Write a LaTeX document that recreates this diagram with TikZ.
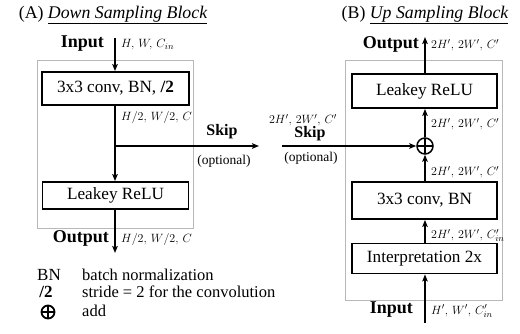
\documentclass[tikz,border=0pt]{standalone}
\usepackage{fontspec}
\setmainfont{Liberation Serif}
\usetikzlibrary{arrows.meta}
\newcommand{\fsz}[1]{\fontsize{#1}{#1}\selectfont}
\tikzset{
  frame/.style={draw=black!28, line width=0.9pt, inner sep=0pt},
  layer/.style={draw=black, line width=1.8pt, inner sep=0pt, font=\fsz{17.2}},
  flow/.style={line width=1.5pt, -{Stealth[length=7pt,width=5.5pt,inset=1.5pt]}},
  head/.style={font=\fsz{17.8}, inner sep=0pt},
  io/.style={font=\fsz{18}\bfseries, inner sep=0pt},
  dims/.style={font=\fsz{12.2}, inner sep=0pt, anchor=west},
  skiplbl/.style={font=\fsz{16}\bfseries, inner sep=0pt},
  optlbl/.style={font=\fsz{13.5}, inner sep=0pt},
  legkey/.style={font=\fsz{17}, inner sep=0pt},
  legtxt/.style={font=\fsz{16.5}, inner sep=0pt, anchor=west},
  addop/.style={circle, draw=black, line width=1.5pt, inner sep=0pt,
    path picture={
      \draw[line width=1.5pt] (path picture bounding box.west) -- (path picture bounding box.east)
        (path picture bounding box.north) -- (path picture bounding box.south);}},
}
\begin{document}
\begin{tikzpicture}[x=1pt,y=-1pt]
\useasboundingbox (0,0) rectangle (520,333);

% ---------- (A) down sampling block ----------
\node[head] (titleA) at (113,15) {(A) \textit{\underline{Down Sampling Block}}};
\node[frame, minimum width=156pt, minimum height=168pt] (frameA) at (115,144) {};
\node[layer, minimum width=147pt, minimum height=33pt] (convA) at (115.5,88.5) {3x3 conv, BN, \textbf{/2}};
\node[layer, minimum width=146pt, minimum height=27pt] (reluA) at (115.5,195.5) {Leakey ReLU};

\coordinate (inA) at (115,38);
\coordinate (outA) at (115,253);
\coordinate (splitA) at (115,146);
\coordinate (skipA) at (259,146);

\draw[flow] (inA) -- (inA |- convA.north);
\draw[flow] (splitA |- convA.south) -- (splitA |- reluA.north);
\draw[flow] (splitA) -- (skipA);
\draw[flow] (splitA |- reluA.south) -- (outA);

\node[io, anchor=east] (inlblA) at (104,44) {Input};
\node[dims] (dimInA) at (121,45) {$H,\,W,\,C_{in}$};
\node[dims] (dimMidA) at (121,117) {$H/2,\,W/2,\,C$};
\node[skiplbl] (skipTxtA) at (222,132) {Skip};
\node[optlbl] (optA) at (224,161) {(optional)};
\node[io, anchor=east] (outlblA) at (109,238) {Output};
\node[dims] (dimOutA) at (121,239) {$H/2,\,W/2,\,C$};

% ---------- legend ----------
\node[legkey] (kBN) at (49,275) {BN};
\node[legtxt] (tBN) at (82,275) {batch normalization};
\node[legkey, font=\fsz{17}\bfseries] (kStr) at (46,292) {/2};
\node[legtxt] (tStr) at (82,292) {stride = 2 for the convolution};
\node[addop, minimum size=13pt, line width=1.8pt] (kAdd) at (48,312) {};
\node[legtxt] (tAdd) at (82,311) {add};

% ---------- (B) up sampling block ----------
\node[head] (titleB) at (425,15) {(B) \textit{\underline{Up Sampling Block}}};
\node[frame, minimum width=157pt, minimum height=240pt] (frameB) at (423.5,180) {};
\node[layer, minimum width=145pt, minimum height=34pt] (reluB) at (424.5,91) {Leakey ReLU};
\node[addop, minimum size=16pt] (addB) at (425,146) {};
\node[layer, minimum width=145pt, minimum height=37pt] (convB) at (424.5,200.5) {3x3 conv, BN};
\node[layer, minimum width=145pt, minimum height=30pt] (interpB) at (424.5,258.5) {Interpretation 2x};

\coordinate (inB) at (425,323);
\coordinate (outB) at (425,37);
\coordinate (skipB) at (282,146);

\draw[flow] (inB) -- (inB |- interpB.south);
\draw[flow] (inB |- interpB.north) -- (inB |- convB.south);
\draw[flow] (inB |- convB.north) -- (addB.south);
\draw[flow] (addB.north) -- (inB |- reluB.south);
\draw[flow] (inB |- reluB.north) -- (outB);
\draw[flow] (skipB) -- (addB.west);

\node[io, anchor=east] (outlblB) at (419,44) {Output};
\node[dims] (dimOutB) at (431,45) {$2H',\,2W',\,C'$};
\node[dims] (dimAddB) at (431,124) {$2H',\,2W',\,C'$};
\node[dims] (dimConvB) at (431,172) {$2H',\,2W',\,C'$};
\node[dims] (dimIntB) at (431,235.5) {$2H',\,2W',\,C'_{in}$};
\node[io, anchor=east] (inlblB) at (413,310) {Input};
\node[dims] (dimInB) at (431,311) {$H',\,W',\,C'_{in}$};

\node[dims, anchor=center] (dimSkipB) at (303,120) {$2H',\,2W',\,C'$};
\node[skiplbl] (skipTxtB) at (310,134) {Skip};
\node[optlbl] (optB) at (311,158) {(optional)};
\end{tikzpicture}
\end{document}
